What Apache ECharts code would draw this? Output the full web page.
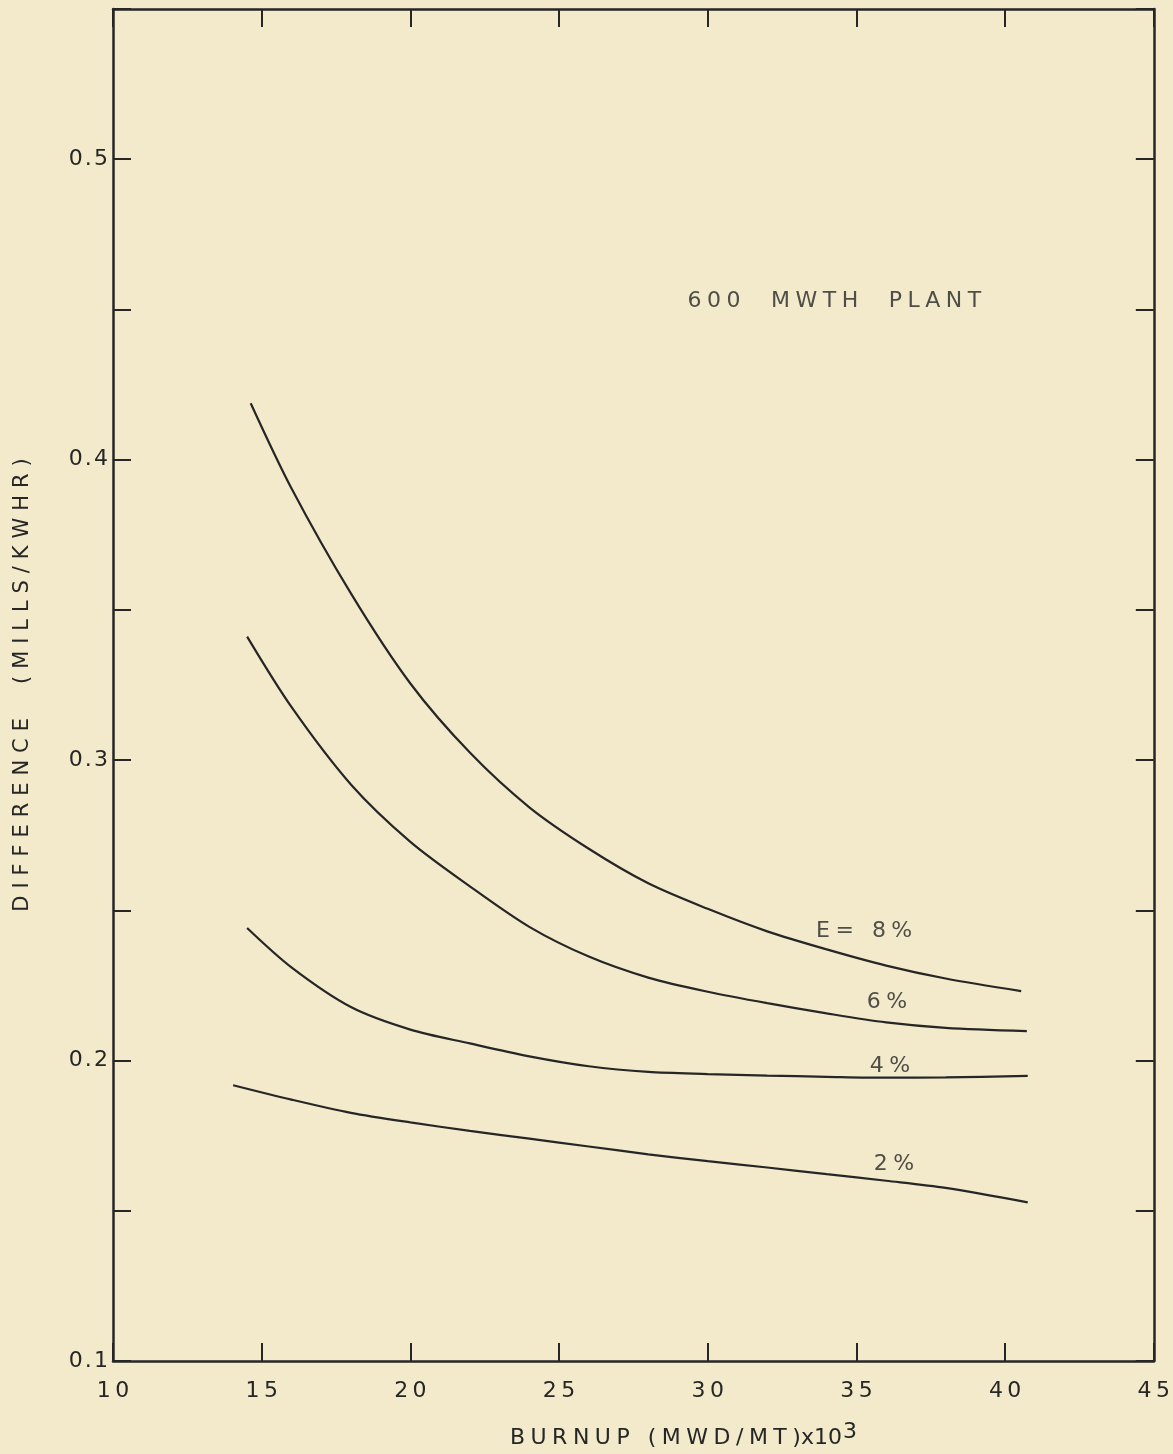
<!DOCTYPE html>
<html>
<head>
<meta charset="utf-8">
<script src="https://cdn.jsdelivr.net/npm/echarts@6/dist/echarts.min.js"></script>
<style>
  html, body { margin: 0; padding: 0; background: #F2EACB; overflow: hidden; width: 1173px; height: 1454px; }
  #chart { width: 1173px; height: 1454px; display: block; }
</style>
</head>
<body>
<div id="chart"></div>
<script>
// Burnup (MWD/MT x10^3) vs. cost difference (mills/kWh) per enrichment
var e8 = [[14.63,0.4188],[16,0.3905],[18,0.3555],[20,0.3255],[22,0.3025],[24,0.2843],[26,0.2705],[28,0.2590],[30,0.2505],[32,0.2430],[34,0.2370],[36,0.2316],[38,0.2273],[40.54,0.2231]];
var e6 = [[14.51,0.3411],[16,0.3177],[18,0.2919],[20,0.2728],[22,0.2580],[24,0.2445],[26,0.2346],[28,0.2276],[30,0.2229],[32,0.2191],[34,0.2157],[36,0.2127],[38,0.2109],[40.73,0.2098]];
var e4 = [[14.51,0.2441],[16,0.2310],[18,0.2178],[20,0.2103],[22,0.2057],[24,0.2014],[26,0.1981],[28,0.1962],[30,0.1955],[32,0.1950],[34,0.1946],[36,0.1943],[38,0.1944],[40.76,0.1949]];
var e2 = [[14.04,0.1918],[16,0.1870],[18,0.1826],[20,0.1794],[22,0.1766],[24,0.1740],[26,0.1714],[28,0.1688],[30,0.1665],[32,0.1644],[34,0.1622],[36,0.1600],[38,0.1576],[40.76,0.1528]];

// curve labels: text and anchor in data units
var curveLabels = [
  ['E= 8%', 35.26, 0.2430],
  ['6%', 36.03, 0.2194],
  ['4%', 36.13, 0.1981],
  ['2%', 36.26, 0.1655]
];
var plantNote = ['600  MWTH  PLANT', 34.26, 0.4528];

var xTicks = [10, 15, 20, 25, 30, 35, 40, 45];
var yLabelTicks = [0.1, 0.2, 0.3, 0.4, 0.5];

var ink = '#262626';
var font = 'DejaVu Sans';

function spaced(s, sep) { return s.split('').join(sep || '\u2009'); }

var chart = echarts.init(document.getElementById('chart'));

function curve(data) {
  return {
    type: 'line', data: data, smooth: 0.3, symbol: 'none',
    lineStyle: { color: ink, width: 2.2 }, xAxisIndex: 0, yAxisIndex: 0, z: 3
  };
}

var textSeries = {
  type: 'scatter', symbolSize: 0, xAxisIndex: 0, yAxisIndex: 0, silent: true,
  data: curveLabels.map(function (d) { return { value: [d[1], d[2]], name: d[0] }; })
    .concat([{ value: [plantNote[1], plantNote[2]], name: plantNote[0] }]),
  label: {
    show: true, position: 'inside', color: ink, fontFamily: font, fontSize: 22,
    formatter: function (p) { return spaced(p.name, '\u2005'); }
  }
};

var axisLine = { show: true, lineStyle: { color: ink, width: 2.5 } };
var tick = { show: true, inside: true, length: 18, lineStyle: { color: ink, width: 2 } };

chart.setOption({
  backgroundColor: '#F2EACB',
  animation: false,
  grid: { left: 113, right: 12, top: 9, bottom: 92, containLabel: false },
  xAxis: [{
    type: 'value', min: 10, max: 45, interval: 5, position: 'bottom',
    axisLine: axisLine, axisTick: tick,
    axisLabel: {
      color: ink, fontFamily: font, fontSize: 22, margin: 19,
      formatter: function (v) { return xTicks.indexOf(v) >= 0 ? spaced(String(v)) : ''; }
    },
    splitLine: { show: false },
    name: '{a|' + spaced('BURNUP (MWD/MT)', '\u2005') + 'x10}{s|3}',
    nameLocation: 'middle', nameGap: 60,
    nameTextStyle: {
      padding: [0, 0, 0, 100],
      rich: {
        a: { color: ink, fontFamily: font, fontSize: 22, verticalAlign: 'bottom', lineHeight: 28 },
        s: { color: ink, fontFamily: font, fontSize: 22, verticalAlign: 'bottom', lineHeight: 28, padding: [0, 0, 6, 1] }
      }
    }
  }, {
    type: 'value', min: 10, max: 45, interval: 5, position: 'top',
    axisLine: axisLine, axisTick: tick,
    axisLabel: { show: false }, splitLine: { show: false }
  }],
  yAxis: [{
    type: 'value', min: 0.1, max: 0.55, interval: 0.05, position: 'left',
    axisLine: axisLine, axisTick: tick,
    axisLabel: {
      color: ink, fontFamily: font, fontSize: 22, margin: 5,
      formatter: function (v) {
        var r = Math.round(v * 100) / 100;
        return yLabelTicks.indexOf(r) >= 0 ? spaced(r.toFixed(1), '\u200A') : '';
      }
    },
    splitLine: { show: false },
    name: spaced('DIFFERENCE  (MILLS/KWHR)', '\u2004'),
    nameLocation: 'middle', nameRotate: 90, nameGap: 80,
    nameTextStyle: { color: ink, fontFamily: font, fontSize: 21 }
  }, {
    type: 'value', min: 0.1, max: 0.55, interval: 0.05, position: 'right',
    axisLine: axisLine, axisTick: tick,
    axisLabel: { show: false }, splitLine: { show: false }
  }],
  series: [curve(e8), curve(e6), curve(e4), curve(e2), textSeries]
});
</script>
</body>
</html>
